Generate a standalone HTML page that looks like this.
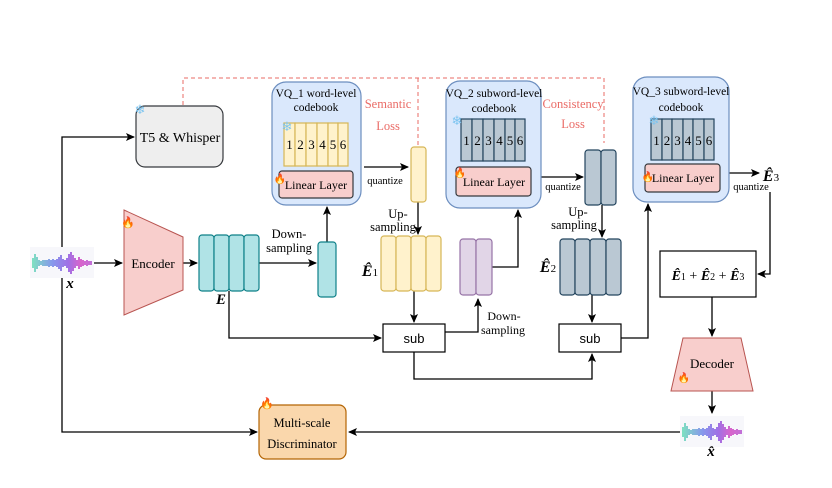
<!DOCTYPE html>
<html><head><meta charset="utf-8"><style>
html,body{margin:0;padding:0;background:#fff;}
svg{display:block;}
text{font-family:"Liberation Serif",serif;}
</style></head><body>
<svg width="832" height="488" viewBox="0 0 832 488" xmlns="http://www.w3.org/2000/svg">
<defs>
<marker id="a" markerWidth="10" markerHeight="10" refX="8" refY="4" orient="auto" markerUnits="userSpaceOnUse"><path d="M0,0 L9,4 L0,8 L2,4 z" fill="#000"/></marker>
<linearGradient id="wg" gradientUnits="userSpaceOnUse" x1="0" x2="62" y1="0" y2="0"><stop offset="0" stop-color="#5fe0b0"/><stop offset="0.35" stop-color="#6b7fe8"/><stop offset="0.6" stop-color="#8a4fe0"/><stop offset="0.8" stop-color="#d040c0"/><stop offset="1" stop-color="#b050d0"/></linearGradient>
<g id="wave" stroke="url(#wg)" stroke-width="1.6">
<line x1="2" y1="-5" x2="2" y2="5"/><line x1="4" y1="-9" x2="4" y2="9"/><line x1="6" y1="-6" x2="6" y2="6"/><line x1="8" y1="-3" x2="8" y2="3"/><line x1="10" y1="-2" x2="10" y2="2"/><line x1="12" y1="-3" x2="12" y2="3"/><line x1="14" y1="-3" x2="14" y2="3"/><line x1="16" y1="-3" x2="16" y2="3"/><line x1="18" y1="-4" x2="18" y2="4"/><line x1="20" y1="-3" x2="20" y2="3"/><line x1="22" y1="-4" x2="22" y2="4"/><line x1="24" y1="-3" x2="24" y2="3"/><line x1="26" y1="-4" x2="26" y2="4"/><line x1="28" y1="-6" x2="28" y2="6"/><line x1="30" y1="-8" x2="30" y2="8"/><line x1="32" y1="-4" x2="32" y2="4"/><line x1="34" y1="-3" x2="34" y2="3"/><line x1="36" y1="-5" x2="36" y2="5"/><line x1="38" y1="-9" x2="38" y2="9"/><line x1="40" y1="-11" x2="40" y2="11"/><line x1="42" y1="-8" x2="42" y2="8"/><line x1="44" y1="-5" x2="44" y2="5"/><line x1="46" y1="-3" x2="46" y2="3"/><line x1="48" y1="-6" x2="48" y2="6"/><line x1="50" y1="-4" x2="50" y2="4"/><line x1="52" y1="-3" x2="52" y2="3"/><line x1="54" y1="-2" x2="54" y2="2"/><line x1="56" y1="-3" x2="56" y2="3"/><line x1="58" y1="-2" x2="58" y2="2"/><line x1="60" y1="-2" x2="60" y2="2"/>
</g>
</defs>

<g stroke="#ea6b66" stroke-dasharray="4,3" fill="none" stroke-width="1">
<path d="M183,105 V78 H604 V143"/>
<path d="M418,78 V145"/>
</g>
<text x="388" y="108" font-size="12.5" fill="#ea6b66" text-anchor="middle">Semantic</text>
<text x="388" y="130" font-size="12.5" fill="#ea6b66" text-anchor="middle">Loss</text>
<text x="573" y="108" font-size="12.5" fill="#ea6b66" text-anchor="middle">Consistency</text>
<text x="573" y="128" font-size="12.5" fill="#ea6b66" text-anchor="middle">Loss</text>

<rect x="136" y="106" width="87" height="61" rx="9" fill="#eeeeee" stroke="#36393d" stroke-width="1.2"/>
<text x="180" y="142" font-size="14" text-anchor="middle">T5 &amp; Whisper</text>
<text x="140" y="114" font-size="13" fill="#7cc4f0" text-anchor="middle">❄</text>

<g stroke="#000" stroke-width="1.3" fill="none">
<path d="M62,255 V137 H134" marker-end="url(#a)"/>
<path d="M62,275 V432 H257" marker-end="url(#a)"/>
<path d="M94,263 H122" marker-end="url(#a)"/>
<path d="M183,263 H197" marker-end="url(#a)"/>
<path d="M259,263 H316" marker-end="url(#a)"/>
<path d="M327,242 V207" marker-end="url(#a)"/>
<path d="M229,291 V338 H381" marker-end="url(#a)"/>
<path d="M364,167 H408" marker-end="url(#a)"/>
<path d="M418,202 V234" marker-end="url(#a)"/>
<path d="M414,291 V322" marker-end="url(#a)"/>
<path d="M445,332 H478 V299" marker-end="url(#a)"/>
<path d="M414,352 V379 H592 V354" marker-end="url(#a)"/>
<path d="M492,267 H518 V210" marker-end="url(#a)"/>
<path d="M541,177 H583" marker-end="url(#a)"/>
<path d="M602,205 V237" marker-end="url(#a)"/>
<path d="M592,295 V322" marker-end="url(#a)"/>
<path d="M621,338 H648 V204" marker-end="url(#a)"/>
<path d="M729,173 H759" marker-end="url(#a)"/>
<path d="M770,192 V274 H758" marker-end="url(#a)"/>
<path d="M712,297 V336" marker-end="url(#a)"/>
<path d="M712,391 V413" marker-end="url(#a)"/>
<path d="M680,432 H349" marker-end="url(#a)"/>
</g>

<rect x="30" y="247" width="64" height="31" fill="#f7f7fb"/>
<use href="#wave" x="31" y="263"/>
<text x="70" y="288" font-size="15" font-weight="bold" font-style="italic" text-anchor="middle">x</text>
<rect x="680" y="416" width="64" height="31" fill="#f7f7fb"/>
<use href="#wave" x="681" y="432"/>
<text x="711" y="456" font-size="15" font-weight="bold" font-style="italic" text-anchor="middle">x̂</text>

<path d="M124,210 L183,237 L183,290 L124,315 Z" fill="#f8cecc" stroke="#b85450" stroke-width="1"/>
<text x="153" y="268" font-size="13" text-anchor="middle">Encoder</text>
<text x="128" y="226" font-size="11" fill="#f06010" text-anchor="middle">🔥</text>

<g fill="#b0e3e6" stroke="#0e8088" stroke-width="1.2">
<rect x="199" y="235" width="15" height="56" rx="3"/><rect x="214" y="235" width="15" height="56" rx="3"/><rect x="229" y="235" width="15" height="56" rx="3"/><rect x="244" y="235" width="15" height="56" rx="3"/>
<rect x="318" y="242" width="18" height="55" rx="3"/>
</g>
<text x="221" y="304" font-size="15" font-weight="bold" font-style="italic" text-anchor="middle">E</text>
<text x="289" y="238" font-size="12.5" text-anchor="middle">Down-</text>
<text x="289" y="252" font-size="12.5" text-anchor="middle">sampling</text>

<rect x="272" y="82" width="89" height="123" rx="14" fill="#dae8fc" stroke="#6c8ebf" stroke-width="1.2"/>
<text x="316" y="97" font-size="11.5" text-anchor="middle">VQ_1 word-level</text>
<text x="316" y="111" font-size="11.5" text-anchor="middle">codebook</text>
<g fill="#fff2cc" stroke="#d6b656" stroke-width="1.2">
<rect x="284" y="123" width="11" height="43"/><rect x="295" y="123" width="11" height="43"/><rect x="306" y="123" width="11" height="43"/><rect x="317" y="123" width="11" height="43"/><rect x="328" y="123" width="10" height="43"/><rect x="338" y="123" width="10" height="43"/>
</g>
<g font-size="13" text-anchor="middle"><text x="289.5" y="149">1</text><text x="300.5" y="149">2</text><text x="311.5" y="149">3</text><text x="322.5" y="149">4</text><text x="333" y="149">5</text><text x="343" y="149">6</text></g>
<text x="287" y="131" font-size="13" fill="#7cc4f0" text-anchor="middle">❄</text>
<rect x="279" y="171" width="74" height="27" rx="3" fill="#f8cecc" stroke="#36393d" stroke-width="1.2"/>
<text x="316" y="189" font-size="12" text-anchor="middle">Linear Layer</text>
<text x="280" y="182" font-size="10" fill="#f06010" text-anchor="middle">🔥</text>
<text x="385" y="184" font-size="10.5" text-anchor="middle">quantize</text>

<g fill="#fff2cc" stroke="#d6b656" stroke-width="1.2">
<rect x="411" y="147" width="15" height="55" rx="3"/>
<rect x="381" y="236" width="15" height="55" rx="3"/><rect x="396" y="236" width="15" height="55" rx="3"/><rect x="411" y="236" width="15" height="55" rx="3"/><rect x="426" y="236" width="15" height="55" rx="3"/>
</g>
<text x="398" y="218" font-size="12.5" text-anchor="middle">Up-</text>
<text x="393" y="231" font-size="12.5" text-anchor="middle">sampling</text>
<text x="370" y="276" font-size="16" text-anchor="middle"><tspan font-weight="bold" font-style="italic">Ê</tspan><tspan font-size="11">1</tspan></text>

<rect x="383" y="324" width="62" height="28" fill="#fff" stroke="#000" stroke-width="1.2"/>
<text x="414" y="343" font-size="13" text-anchor="middle" style="font-family:'Liberation Sans',sans-serif">sub</text>
<rect x="559" y="324" width="62" height="28" fill="#fff" stroke="#000" stroke-width="1.2"/>
<text x="590" y="343" font-size="13" text-anchor="middle" style="font-family:'Liberation Sans',sans-serif">sub</text>
<text x="504" y="320" font-size="12" text-anchor="middle">Down-</text>
<text x="503" y="334" font-size="12" text-anchor="middle">sampling</text>

<g fill="#e1d5e7" stroke="#9673a6" stroke-width="1.2">
<rect x="460" y="239" width="16" height="56" rx="3"/><rect x="476" y="239" width="16" height="56" rx="3"/>
</g>

<rect x="446" y="81" width="95" height="127" rx="14" fill="#dae8fc" stroke="#6c8ebf" stroke-width="1.2"/>
<text x="494" y="97" font-size="11.5" text-anchor="middle">VQ_2 subword-level</text>
<text x="494" y="112" font-size="11.5" text-anchor="middle">codebook</text>
<g fill="#bac8d3" stroke="#23445d" stroke-width="1.2">
<rect x="461" y="119" width="11" height="42"/><rect x="472" y="119" width="11" height="42"/><rect x="483" y="119" width="11" height="42"/><rect x="494" y="119" width="11" height="42"/><rect x="505" y="119" width="10" height="42"/><rect x="515" y="119" width="10" height="42"/>
</g>
<g font-size="13" text-anchor="middle"><text x="466.5" y="145">1</text><text x="477.5" y="145">2</text><text x="488.5" y="145">3</text><text x="499.5" y="145">4</text><text x="510" y="145">5</text><text x="520" y="145">6</text></g>
<text x="457" y="125" font-size="13" fill="#7cc4f0" text-anchor="middle">❄</text>
<rect x="456" y="167" width="75" height="29" rx="3" fill="#f8cecc" stroke="#36393d" stroke-width="1.2"/>
<text x="494" y="186" font-size="12" text-anchor="middle">Linear Layer</text>
<text x="460" y="176" font-size="10" fill="#f06010" text-anchor="middle">🔥</text>
<text x="563" y="190" font-size="10.5" text-anchor="middle">quantize</text>

<g fill="#bac8d3" stroke="#23445d" stroke-width="1.2">
<rect x="585" y="150" width="16" height="55" rx="3"/><rect x="601" y="150" width="15" height="55" rx="3"/>
<rect x="560" y="239" width="15" height="56" rx="3"/><rect x="575" y="239" width="15" height="56" rx="3"/><rect x="590" y="239" width="16" height="56" rx="3"/><rect x="606" y="239" width="15" height="56" rx="3"/>
</g>
<text x="578" y="216" font-size="12.5" text-anchor="middle">Up-</text>
<text x="574" y="229" font-size="12.5" text-anchor="middle">sampling</text>
<text x="548" y="272" font-size="16" text-anchor="middle"><tspan font-weight="bold" font-style="italic">Ê</tspan><tspan font-size="11">2</tspan></text>

<rect x="633" y="77" width="96" height="125" rx="14" fill="#dae8fc" stroke="#6c8ebf" stroke-width="1.2"/>
<text x="681" y="95" font-size="11.5" text-anchor="middle">VQ_3 subword-level</text>
<text x="681" y="111" font-size="11.5" text-anchor="middle">codebook</text>
<g fill="#bac8d3" stroke="#23445d" stroke-width="1.2">
<rect x="651" y="119" width="11" height="41"/><rect x="662" y="119" width="10" height="41"/><rect x="672" y="119" width="11" height="41"/><rect x="683" y="119" width="10" height="41"/><rect x="693" y="119" width="11" height="41"/><rect x="704" y="119" width="10" height="41"/>
</g>
<g font-size="13" text-anchor="middle"><text x="656.5" y="145">1</text><text x="667" y="145">2</text><text x="677.5" y="145">3</text><text x="688" y="145">4</text><text x="698.5" y="145">5</text><text x="709" y="145">6</text></g>
<text x="654" y="125" font-size="13" fill="#7cc4f0" text-anchor="middle">❄</text>
<rect x="645" y="164" width="75" height="28" rx="3" fill="#f8cecc" stroke="#36393d" stroke-width="1.2"/>
<text x="683" y="182" font-size="12" text-anchor="middle">Linear Layer</text>
<text x="648" y="180" font-size="10" fill="#f06010" text-anchor="middle">🔥</text>
<text x="751" y="190" font-size="10.5" text-anchor="middle">quantize</text>
<text x="771" y="181" font-size="16" text-anchor="middle"><tspan font-weight="bold" font-style="italic">Ê</tspan><tspan font-size="11">3</tspan></text>

<rect x="660" y="251" width="96" height="46" fill="#fff" stroke="#000" stroke-width="1.2"/>
<text x="708" y="280" font-size="14" text-anchor="middle"><tspan font-weight="bold" font-style="italic">Ê</tspan><tspan font-size="10">1</tspan> + <tspan font-weight="bold" font-style="italic">Ê</tspan><tspan font-size="10">2</tspan> + <tspan font-weight="bold" font-style="italic">Ê</tspan><tspan font-size="10">3</tspan></text>

<path d="M683,338 L741,338 L753,391 L671,391 Z" fill="#f8cecc" stroke="#b85450" stroke-width="1"/>
<text x="712" y="368" font-size="13" text-anchor="middle">Decoder</text>
<text x="684" y="381" font-size="10" fill="#f06010" text-anchor="middle">🔥</text>

<rect x="259" y="405" width="87" height="54" rx="7" fill="#fad7ac" stroke="#b46504" stroke-width="1.2"/>
<text x="302" y="427" font-size="12.5" text-anchor="middle">Multi-scale</text>
<text x="302" y="448" font-size="12.5" text-anchor="middle">Discriminator</text>
<text x="267" y="407" font-size="11" fill="#f06010" text-anchor="middle">🔥</text>
</svg>
</body></html>
